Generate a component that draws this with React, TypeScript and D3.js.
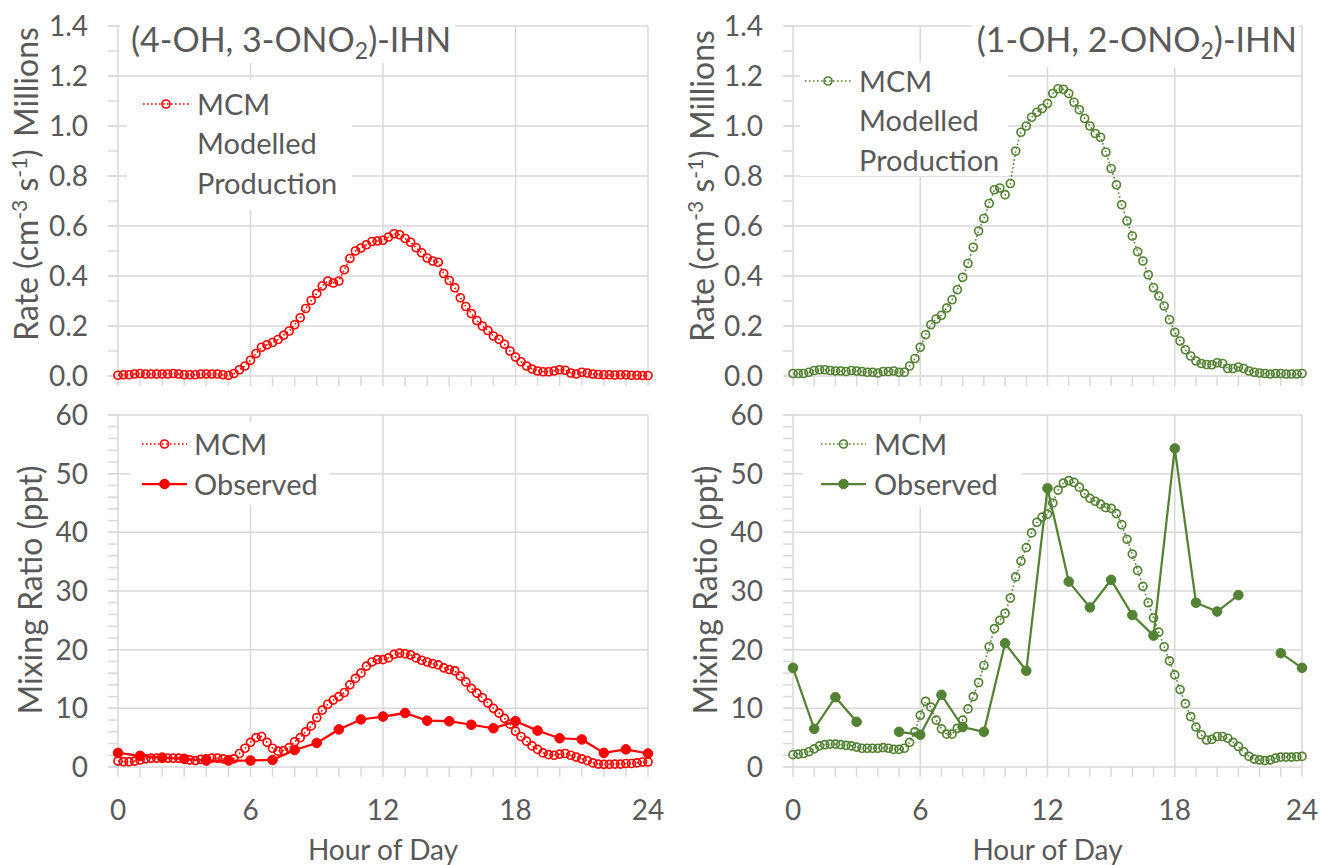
import * as d3 from 'd3';

const FONT = 'Lato, "Open Sans", sans-serif';
const TEXT = '#595959';
const GRID = '#d9d9d9';
const RED = '#ff0000';
const GREEN = '#548235';

// hour axis
const hourLabels = [0, 6, 12, 18, 24];
const hourMinor = [0, 1, 2, 3, 4, 5, 6, 7, 8, 9, 10, 11, 12, 13, 14, 15, 16, 17, 18, 19, 20, 21, 22, 23, 24];
const MCM_STEP = 0.25; // model output every 15 min

const rateTicks = [0, 0.2, 0.4, 0.6, 0.8, 1.0, 1.2, 1.4];
const ratioTicks = [0, 10, 20, 30, 40, 50, 60];

// MCM modelled production rate (millions cm-3 s-1), 15 min steps
const rate4OH = [
    0.003, 0.005, 0.005, 0.008, 0.01, 0.008, 0.008, 0.008, 0.008, 0.008, 0.01, 0.008,
    0.005, 0.005, 0.005, 0.008, 0.008, 0.008, 0.008, 0.005, 0.003, 0.01, 0.025, 0.04,
    0.063, 0.09, 0.115, 0.125, 0.134, 0.146, 0.163, 0.18, 0.205, 0.233, 0.27, 0.302,
    0.33, 0.36, 0.38, 0.372, 0.38, 0.425, 0.47, 0.5, 0.512, 0.525, 0.538, 0.54,
    0.543, 0.556, 0.569, 0.565, 0.55, 0.535, 0.513, 0.493, 0.472, 0.46, 0.455, 0.41,
    0.382, 0.353, 0.313, 0.278, 0.25, 0.222, 0.2, 0.182, 0.16, 0.147, 0.127, 0.1,
    0.076, 0.057, 0.04, 0.028, 0.02, 0.017, 0.017, 0.02, 0.025, 0.023, 0.012, 0.008,
    0.015, 0.012, 0.008, 0.006, 0.005, 0.005, 0.004, 0.005, 0.005, 0.003, 0.003, 0.002,
    0.002,
];
const rate1OH = [
    0.01, 0.01, 0.01, 0.015, 0.022, 0.025, 0.025, 0.022, 0.02, 0.02, 0.018, 0.022,
    0.02, 0.018, 0.015, 0.015, 0.012, 0.018, 0.018, 0.02, 0.015, 0.015, 0.04, 0.07,
    0.115, 0.165, 0.205, 0.228, 0.243, 0.272, 0.305, 0.345, 0.395, 0.45, 0.515, 0.58,
    0.63, 0.69, 0.745, 0.752, 0.725, 0.77, 0.9, 0.975, 1.0, 1.035, 1.055, 1.07,
    1.09, 1.13, 1.149, 1.147, 1.13, 1.095, 1.065, 1.03, 1.0, 0.97, 0.955, 0.895,
    0.83, 0.765, 0.685, 0.62, 0.56, 0.497, 0.46, 0.405, 0.353, 0.32, 0.28, 0.225,
    0.175, 0.14, 0.105, 0.08, 0.06, 0.05, 0.046, 0.045, 0.053, 0.05, 0.03, 0.03,
    0.036, 0.03, 0.02, 0.015, 0.012, 0.01, 0.008, 0.01, 0.01, 0.008, 0.008, 0.008,
    0.01,
];

// MCM mixing ratio (ppt), 15 min steps
const mcm4OH = [
    1.0, 0.9, 0.9, 1.0, 1.2, 1.4, 1.5, 1.5, 1.5, 1.5, 1.5, 1.5,
    1.4, 1.2, 1.1, 1.3, 1.4, 1.5, 1.5, 1.4, 1.2, 1.4, 2.3, 3.2,
    4.2, 5.0, 5.2, 4.2, 3.2, 2.7, 2.8, 3.3, 4.3, 5.0, 6.0, 7.0,
    8.4, 9.7, 10.7, 11.4, 12.0, 12.7, 14.0, 15.1, 16.0, 17.2, 17.9, 18.3,
    18.3, 18.6, 19.2, 19.4, 19.3, 19.1, 18.6, 18.2, 17.9, 17.6, 17.4, 16.9,
    16.6, 16.4, 15.5, 14.5, 13.4, 12.6, 11.8, 10.9, 10.0, 9.2, 8.3, 7.3,
    6.1, 5.2, 4.4, 3.6, 3.0, 2.4, 2.1, 2.0, 2.2, 2.3, 2.0, 1.7,
    1.4, 1.1, 0.7, 0.5, 0.45, 0.45, 0.5, 0.5, 0.6, 0.6, 0.7, 0.85,
    0.85,
];
const mcm1OH = [
    2.1, 2.2, 2.3, 2.6, 3.1, 3.6, 3.8, 3.9, 3.9, 3.8, 3.7, 3.6,
    3.4, 3.2, 3.2, 3.2, 3.2, 3.3, 3.2, 3.0, 3.0, 3.2, 4.2, 6.0,
    8.8, 11.2, 10.2, 8.0, 6.5, 5.6, 5.6, 6.6, 8.0, 9.9, 12.0, 14.4,
    17.3, 20.5, 23.6, 25.0, 26.2, 28.8, 32.4, 35.1, 37.4, 39.9, 41.7, 42.6,
    43.1, 45.0, 47.2, 48.4, 48.8, 48.5, 47.7, 46.6, 45.8, 45.3, 44.8, 44.2,
    44.1, 43.2, 41.3, 38.8, 36.3, 33.5, 30.8, 28.0, 25.4, 23.0, 20.5, 18.1,
    15.7, 13.2, 10.8, 8.6, 6.8, 5.5, 4.6, 4.7, 5.2, 5.2, 4.9, 4.2,
    3.5, 2.6, 1.8, 1.35, 1.2, 1.1, 1.2, 1.5, 1.7, 1.7, 1.7, 1.75,
    1.8,
];

// observed hourly mixing ratio (ppt), null = no data
const obs4OH = [2.4, 1.9, 1.6, 1.4, 1.1, 1.1, 1.1, 1.2, 2.9, 4.1, 6.4, 8.1, 8.6, 9.2, 7.9, 7.8, 7.2, 6.6, 7.8, 6.2, 4.9, 4.7, 2.4, 3.0, 2.3];
const obs1OH = [16.9, 6.5, 11.9, 7.7, null, 6.0, 5.5, 12.3, 6.8, 6.0, 21.1, 16.4, 47.5, 31.6, 27.2, 31.9, 25.9, 22.4, 54.3, 28.0, 26.5, 29.3, null, 19.4, 16.9];

type Legend = {
    box: [number, number, number, number];
    sx: [number, number];
    tx: number;
    rows: { y: number; lines: string[]; kind: 'mcm' | 'obs' }[];
};

type PanelProps = {
    xr: [number, number];
    yr: [number, number];
    yMax: number;
    ticks: number[];
    minorStep: number;
    fmt: (v: number) => string;
    color: string;
    mcm: number[];
    obs?: (number | null)[];
    bottom: boolean;
    legend: Legend;
};

const Marker = ({ cx, cy, color, filled }: { cx: number; cy: number; color: string; filled: boolean }) =>
    filled ? (
        <circle cx={cx} cy={cy} r={4.8} fill={color} stroke={color} strokeWidth={1} />
    ) : (
        <circle cx={cx} cy={cy} r={4} fill="none" stroke={color} strokeWidth={1.7} />
    );

const Panel = ({ xr, yr, yMax, ticks, minorStep, fmt, color, mcm, obs, bottom, legend }: PanelProps) => {
    const x = d3.scaleLinear().domain([0, 24]).range(xr);
    const y = d3.scaleLinear().domain([0, yMax]).range(yr);
    const minor = d3.range(0, yMax + minorStep / 2, minorStep);

    const mcmPts: [number, number][] = mcm.map((v, i) => [i * MCM_STEP, v]);
    const mcmLine = d3
        .line<[number, number]>()
        .x((d) => x(d[0]))
        .y((d) => y(d[1]));

    const obsPts = (obs || []).map((v, i) => [i, v] as [number, number | null]);
    const obsLine = d3
        .line<[number, number | null]>()
        .defined((d) => d[1] != null)
        .x((d) => x(d[0]))
        .y((d) => y(d[1] as number));

    const [bx, by, bw, bh] = legend.box;

    return (
        <g>
            {/* grid + axes */}
            {minor.map((v) => (
                <line key={'mn' + v} x1={xr[0] - 10} x2={xr[0]} y1={y(v)} y2={y(v)} stroke={GRID} strokeWidth={1.5} />
            ))}
            {ticks.map((v) => (
                <line key={'gy' + v} x1={xr[0] - 10} x2={xr[1]} y1={y(v)} y2={y(v)} stroke={GRID} strokeWidth={1.5} />
            ))}
            {hourLabels.map((h) => (
                <line key={'gx' + h} x1={x(h)} x2={x(h)} y1={yr[1]} y2={yr[0]} stroke={GRID} strokeWidth={1.5} />
            ))}
            {hourMinor.map((h) => (
                <line key={'hx' + h} x1={x(h)} x2={x(h)} y1={yr[0]} y2={yr[0] + 10} stroke={GRID} strokeWidth={1.5} />
            ))}

            {ticks.map((v) => (
                <text key={'ty' + v} x={xr[0] - 30} y={y(v)} dy="0.36em" textAnchor="end" fontSize={28} fill={TEXT}>
                    {fmt(v)}
                </text>
            ))}
            {bottom &&
                hourLabels.map((h) => (
                    <text key={'tx' + h} x={x(h)} y={820} textAnchor="middle" fontSize={28} fill={TEXT}>
                        {h}
                    </text>
                ))}
            {bottom && (
                <text x={(xr[0] + xr[1]) / 2} y={860} textAnchor="middle" fontSize={28} fill={TEXT}>
                    Hour of Day
                </text>
            )}

            {/* legend box */}
            <rect x={bx} y={by} width={bw} height={bh} fill="#fff" />

            {/* series */}
            <path d={mcmLine(mcmPts) || ''} fill="none" stroke={color} strokeWidth={1.6} strokeDasharray="1.6 2.4" />
            {mcmPts.map((d, i) => (
                <Marker key={'m' + i} cx={x(d[0])} cy={y(d[1])} color={color} filled={false} />
            ))}
            {obs && <path d={obsLine(obsPts) || ''} fill="none" stroke={color} strokeWidth={2.25} />}
            {obs &&
                obsPts
                    .filter((d) => d[1] != null)
                    .map((d) => <Marker key={'o' + d[0]} cx={x(d[0])} cy={y(d[1] as number)} color={color} filled />)}

            {/* legend */}
            {legend.rows.map((r) => (
                <g key={r.kind}>
                    {r.kind === 'mcm' ? (
                        <line x1={legend.sx[0]} x2={legend.sx[1]} y1={r.y} y2={r.y} stroke={color} strokeWidth={1.6} strokeDasharray="1.6 2.4" />
                    ) : (
                        <line x1={legend.sx[0]} x2={legend.sx[1]} y1={r.y} y2={r.y} stroke={color} strokeWidth={2.25} />
                    )}
                    <Marker cx={(legend.sx[0] + legend.sx[1]) / 2} cy={r.y} color={color} filled={r.kind === 'obs'} />
                    {r.lines.map((t, k) => (
                        <text key={t} x={legend.tx} y={r.y + 10.5 + k * 39.5} fontSize={29} fill={TEXT}>
                            {t}
                        </text>
                    ))}
                </g>
            ))}
        </g>
    );
};

const RateTitle = ({ x, cyRate, cyUnit }: { x: number; cyRate: number; cyUnit: number }) => (
    <g fontSize={32} fill={TEXT}>
        <text transform={`translate(${x},${cyRate}) rotate(-90)`} textAnchor="middle">
            Rate (cm
            <tspan dy={-11} fontSize={21}>-3</tspan>
            <tspan dy={11}> s</tspan>
            <tspan dy={-11} fontSize={21}>-1</tspan>
            <tspan dy={11}>)</tspan>
        </text>
        <text transform={`translate(${x},${cyUnit}) rotate(-90)`} textAnchor="middle">
            Millions
        </text>
    </g>
);

const RatioTitle = ({ x }: { x: number }) => (
    <text transform={`translate(${x},590) rotate(-90)`} textAnchor="middle" fontSize={32} fill={TEXT}>
        Mixing Ratio (ppt)
    </text>
);

const Title = ({ x, anchor, a, b }: { x: number; anchor: 'start' | 'end'; a: string; b: string }) => (
    <text x={x} y={52} textAnchor={anchor} fontSize={34} fill={TEXT}>
        {a}
        <tspan dy={7} fontSize={23}>2</tspan>
        <tspan dy={-7}>{b}</tspan>
    </text>
);

const LEFT: [number, number] = [118, 648];
const RIGHT: [number, number] = [793, 1302];
const TOP: [number, number] = [376, 26];
const BOT: [number, number] = [767, 415];

const fmtRate = d3.format('.1f');
const fmtRatio = d3.format('d');

const App = () => (
    <svg
        width={1320}
        height={865}
        style={{ position: 'absolute', left: 0, top: 0, background: '#fff', fontFamily: FONT }}
    >
        <rect width={1320} height={865} fill="#fff" />

        <Panel
            xr={LEFT}
            yr={TOP}
            yMax={1.4}
            ticks={rateTicks}
            minorStep={0.1}
            fmt={fmtRate}
            color={RED}
            mcm={rate4OH}
            bottom={false}
            legend={{
                box: [127, 80, 225, 130],
                sx: [143, 189],
                tx: 197,
                rows: [{ y: 104, lines: ['MCM', 'Modelled', 'Production'], kind: 'mcm' }],
            }}
        />
        <Panel
            xr={RIGHT}
            yr={TOP}
            yMax={1.4}
            ticks={rateTicks}
            minorStep={0.1}
            fmt={fmtRate}
            color={GREEN}
            mcm={rate1OH}
            bottom={false}
            legend={{
                box: [800, 62, 208, 114],
                sx: [805, 851],
                tx: 859,
                rows: [{ y: 81, lines: ['MCM', 'Modelled', 'Production'], kind: 'mcm' }],
            }}
        />
        <Panel
            xr={LEFT}
            yr={BOT}
            yMax={60}
            ticks={ratioTicks}
            minorStep={2}
            fmt={fmtRatio}
            color={RED}
            mcm={mcm4OH}
            obs={obs4OH}
            bottom
            legend={{
                box: [130, 422, 199, 83],
                sx: [142, 187],
                tx: 194,
                rows: [
                    { y: 444, lines: ['MCM'], kind: 'mcm' },
                    { y: 484, lines: ['Observed'], kind: 'obs' },
                ],
            }}
        />
        <Panel
            xr={RIGHT}
            yr={BOT}
            yMax={60}
            ticks={ratioTicks}
            minorStep={2}
            fmt={fmtRatio}
            color={GREEN}
            mcm={mcm1OH}
            obs={obs1OH}
            bottom
            legend={{
                box: [803, 422, 219, 85],
                sx: [821, 866],
                tx: 874,
                rows: [
                    { y: 444, lines: ['MCM'], kind: 'mcm' },
                    { y: 484, lines: ['Observed'], kind: 'obs' },
                ],
            }}
        />

        {/* title boxes cover the top gridline */}
        <rect x={120} y={20} width={335} height={43} fill="#fff" />
        <rect x={972} y={20} width={327} height={47} fill="#fff" />
        <Title x={131} anchor="start" a="(4-OH, 3-ONO" b=")-IHN" />
        <Title x={1297} anchor="end" a="(1-OH, 2-ONO" b=")-IHN" />

        <RateTitle x={38} cyRate={245} cyUnit={82} />
        <RateTitle x={714} cyRate={246} cyUnit={85} />
        <RatioTitle x={42} />
        <RatioTitle x={717} />
    </svg>
);

export default App;
